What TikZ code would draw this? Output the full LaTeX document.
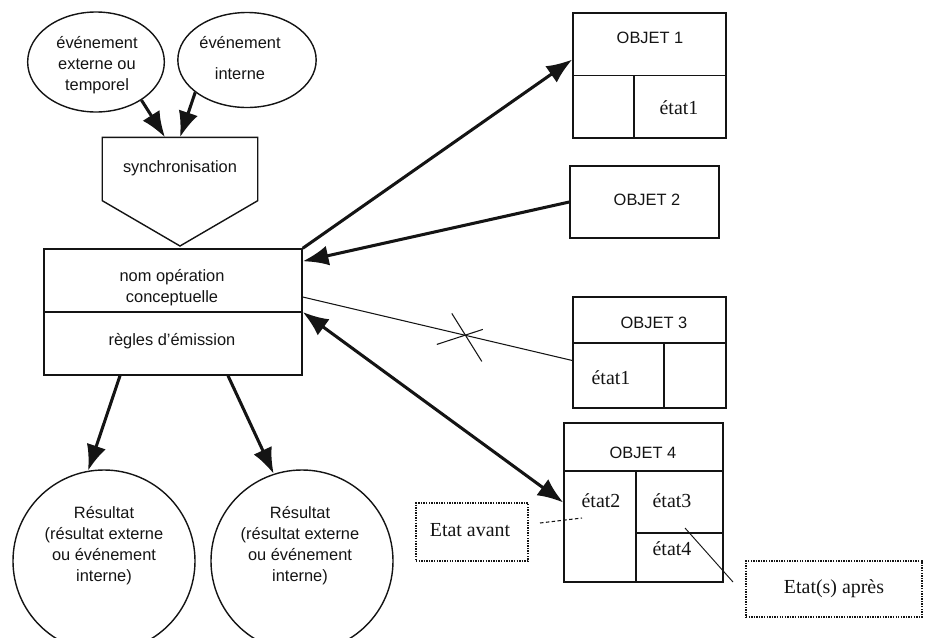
\documentclass[tikz,border=0pt]{standalone}
\usepackage{fontspec}
\setmainfont{Liberation Serif}
\setsansfont{Liberation Sans}
\usetikzlibrary{shapes.geometric,arrows.meta,calc}
\definecolor{mcdblack}{RGB}{20,20,20}

\tikzset{
  sflabel/.style={font=\sffamily\fontsize{14}{18}\selectfont, align=center, inner sep=0pt},
  rmlabel/.style={font=\fontsize{17}{20}\selectfont, inner sep=0pt},
  evt/.style={draw, ellipse, inner sep=0pt},
  result/.style={draw, circle, minimum size=5.46cm, inner sep=0pt},
  objbox/.style={draw, rectangle, inner sep=0pt},
  notebox/.style={draw, densely dotted, line width=1.2pt, rectangle, inner sep=0pt},
  bigarrow/.style={line width=2.6pt, -{Latex[length=22pt,width=17pt]}},
  botharrow/.style={line width=2.6pt, {Latex[length=22pt,width=17pt]}-{Latex[length=22pt,width=17pt]}}
}

\begin{document}
\begin{tikzpicture}[x=0.03cm, y=-0.03cm, line width=1.2pt, mcdblack]
  \useasboundingbox (0,0) rectangle (951,637);
  \clip (0,0) rectangle (951,637);

  % Evenements et synchronisation
  \node[evt, minimum width=4.1cm, minimum height=3cm] (ev1) at (96,62) {};
  \node[sflabel] (ev1txt) at (97,65) {événement\\externe ou\\temporel};
  \node[evt, minimum width=4.15cm, minimum height=2.85cm] (ev2) at (247,60) {};
  \node[sflabel, align=center] (ev2txt) at (240,58) {événement\\[8pt]interne};

  \node[minimum width=4.62cm, minimum height=1.86cm, inner sep=0pt] (sync) at (180,169) {};
  \draw (sync.north west) -- (sync.north east) -- (sync.south east) -- (180,246)
        -- (sync.south west) -- cycle;
  \node[sflabel] (synctxt) at (180,168) {synchronisation};

  \draw[bigarrow] (ev1.-40) -- ($(sync.north)+(-15,0)$);
  \draw[bigarrow] (ev2.-148) -- (sync.north);

  % Operation
  \node[objbox, minimum width=7.74cm, minimum height=3.78cm] (op) at (173,312) {};
  \draw (op.west) -- (op.east);
  \node[sflabel] (opname) at (172,288) {nom opération\\conceptuelle};
  \node[sflabel] (oprule) at (172,341) {règles d'émission};

  % Resultats
  \node[result] (res1) at (104,561) {};
  \node[sflabel] (res1txt) at (104,546) {Résultat\\(résultat externe\\ou événement\\interne)};
  \node[result] (res2) at (302,561) {};
  \node[sflabel] (res2txt) at (300,546) {Résultat\\(résultat externe\\ou événement\\interne)};

  \draw[bigarrow] ($(op.south)+(-53,0)$) -- (res1.100);
  \draw[bigarrow] ($(op.south)+(55,0)$) -- (res2.108);

  % Objets
  \node[objbox, minimum width=4.59cm, minimum height=3.75cm] (obj1) at (649.5,75.5) {};
  \draw (obj1.west) -- (obj1.east);
  \draw (634,75.5) -- (634,138);
  \node[sflabel] (obj1name) at (650,38) {OBJET 1};
  \node[rmlabel] (obj1st) at (679,108) {état1};

  \node[objbox, minimum width=4.47cm, minimum height=2.16cm] (obj2) at (644.5,202) {};
  \node[sflabel] (obj2name) at (647,200) {OBJET 2};

  \node[objbox, minimum width=4.59cm, minimum height=3.33cm] (obj3) at (649.5,352.5) {};
  \draw (573,343) -- (726,343);
  \draw (664,343) -- (664,408);
  \node[sflabel] (obj3name) at (654,323) {OBJET 3};
  \node[rmlabel] (obj3st) at (611,378) {état1};

  \node[objbox, minimum width=4.77cm, minimum height=4.77cm] (obj4) at (643.5,502.5) {};
  \draw (564,471) -- (723,471);
  \draw (636,471) -- (636,582);
  \draw (636,533) -- (723,533);
  \node[sflabel] (obj4name) at (643,453) {OBJET 4};
  \node[rmlabel] (obj4a) at (601,501) {état2};
  \node[rmlabel] (obj4b) at (672,501) {état3};
  \node[rmlabel] (obj4c) at (672,549) {état4};

  % Liens
  \draw[bigarrow] (op.north east) -- ($(obj1.west)+(0,-16)$);
  \draw[bigarrow] (obj2.west) -- ($(op.north east)+(0,13)$);
  \draw[line width=0.9pt] ($(op.east)+(0,-15)$) -- coordinate[pos=0.605] (cut) ($(obj3.west)+(0,8)$);
  \draw[line width=0.9pt] ($(cut)+(-29,9)$) -- ($(cut)+(17,-6)$);
  \draw[line width=0.9pt] ($(cut)+(-14,-22)$) -- ($(cut)+(16,26)$);
  \draw[botharrow] (op.east) -- (obj4.west);

  % Etats avant / apres
  \node[notebox, minimum width=3.36cm, minimum height=1.74cm] (before) at (472,532) {};
  \node[rmlabel] (beforetxt) at (470,530) {Etat avant};
  \coordinate (beforeA) at (540,523);
  \coordinate (beforeB) at (582,518);
  \draw[densely dashed, line width=0.9pt] (beforeA) -- (beforeB);

  \node[notebox, minimum width=5.28cm, minimum height=1.68cm] (after) at (834,589) {};
  \node[rmlabel] (aftertxt) at (834,589) {Etat(s) après};
  \coordinate (afterA) at (685,528);
  \coordinate (afterB) at (733,582);
  \draw[line width=0.8pt] (afterA) -- (afterB);
\end{tikzpicture}
\end{document}
